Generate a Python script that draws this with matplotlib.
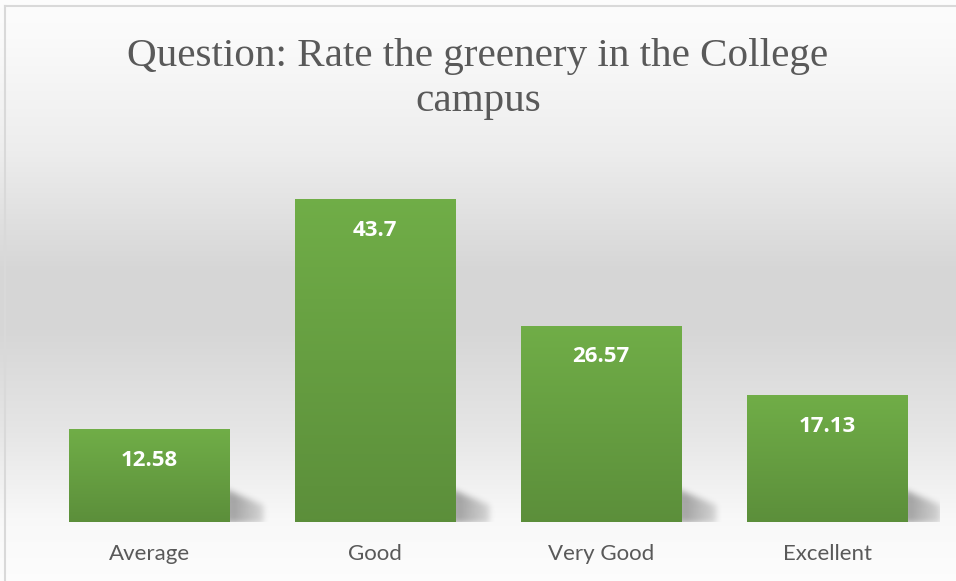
import numpy as np
import matplotlib
matplotlib.use("Agg")
import matplotlib.pyplot as plt

# survey result
categories = ["Average", "Good", "Very Good", "Excellent"]
values = [12.58, 43.7, 26.57, 17.13]
title = "Question: Rate the greenery in the College\ncampus"

W, H = 956, 581
fig = plt.figure(figsize=(W / 100, H / 100), dpi=100)

# background gradient, white -> grey -> white
bg = fig.add_axes([0, 0, 1, 1])
yy = np.arange(H)
shade = np.interp(yy, [0, 40, 150, 270, 330, 430, 520, 581],
                  [0.99, 0.98, 0.93, 0.84, 0.84, 0.90, 0.975, 0.99])
grad = np.repeat(shade[:, None], 2, axis=1)
bg.imshow(np.dstack([grad, grad, grad]), aspect="auto", extent=[0, 1, 0, 1])
bg.set_axis_off()
# chart frame edges
bg.plot([5 / W, 1], [1 - 6 / H, 1 - 6 / H], color="#d9d9d9", lw=1.5)
bg.plot([5 / W, 5 / W], [0, 1 - 6 / H], color="#d9d9d9", lw=1.5)
bg.set_xlim(0, 1)
bg.set_ylim(0, 1)

ax = fig.add_axes([36.5 / W, 59 / H, (940 - 36.5) / W, (522 - 152.5) / H])
ax.patch.set_alpha(0)
x = np.arange(len(categories))
bw = 0.712
bars = ax.bar(x, values, width=bw, color="none", zorder=3)
ax.set_xlim(-0.5, len(categories) - 0.5)
ax.set_ylim(0, 50)

# green vertical gradient in each bar
g = np.linspace(0, 1, 100)[:, None]
top = np.array([0.44, 0.68, 0.28])
bot = np.array([0.36, 0.56, 0.23])
img = top * (1 - g[..., None]) + bot * g[..., None]
img = np.repeat(img, 2, axis=1)
for b in bars:
    x0, w, h = b.get_x(), b.get_width(), b.get_height()
    im = ax.imshow(img, aspect="auto", extent=[x0, x0 + w, 0, h], zorder=3)
    im.set_clip_path(b)

# soft blurred shadow (pixel sized) to the right of each bar
sw, sh = 50, 46
px, py = np.meshgrid(np.arange(sw) + 0.5 - 6, np.arange(sh) + 0.5)  # px from bar edge
upper = 34 - px * 0.42
mask = ((py > 2) & (py < upper) & (px < 34)).astype(float)
k = np.exp(-0.5 * (np.arange(-9, 10) / 3.2) ** 2)
k /= k.sum()
mask = np.apply_along_axis(lambda r: np.convolve(r, k, mode="same"), 1, mask)
mask = np.apply_along_axis(lambda c: np.convolve(c, k, mode="same"), 0, mask)
mask *= np.clip(1.1 - px / 50, 0, 1)
shadow = np.zeros((sh, sw, 4))
shadow[..., 3] = 0.32 * mask[::-1]
fig.canvas.draw()
inv = ax.transData.inverted()
for b in bars:
    xr = b.get_x() + b.get_width()
    X0, Y0 = ax.transData.transform((xr, 0))
    (dx0, dy0), (dx1, dy1) = inv.transform([(X0 - 6, Y0 - 3), (X0 - 6 + sw, Y0 + sh - 3)])
    ax.imshow(shadow, aspect="auto", extent=[dx0, dx1, dy0, dy1], zorder=2,
              interpolation="bilinear")
ax.set_xlim(-0.5, len(categories) - 0.5)
ax.set_ylim(0, 50)

for xi, v in zip(x, values):
    ax.annotate(f"{v:g}", (xi, v), xytext=(0, -31), textcoords="offset pixels",
                ha="center", va="center", color="white", fontsize=16,
                fontweight="bold", family="Open Sans", zorder=5)

ax.set_xticks(x)
ax.set_xticklabels(categories, fontsize=16, color="#595959", family="Lato")
ax.tick_params(axis="x", length=0, pad=16)
ax.set_yticks([])
for sp in ax.spines.values():
    sp.set_visible(False)

fig.text(0.5, 1 - 79 / H, title, ha="center", va="center", fontsize=29.6,
         color="#595959", family="Liberation Serif", linespacing=1.32)

fig.savefig("out.png", dpi=100)
